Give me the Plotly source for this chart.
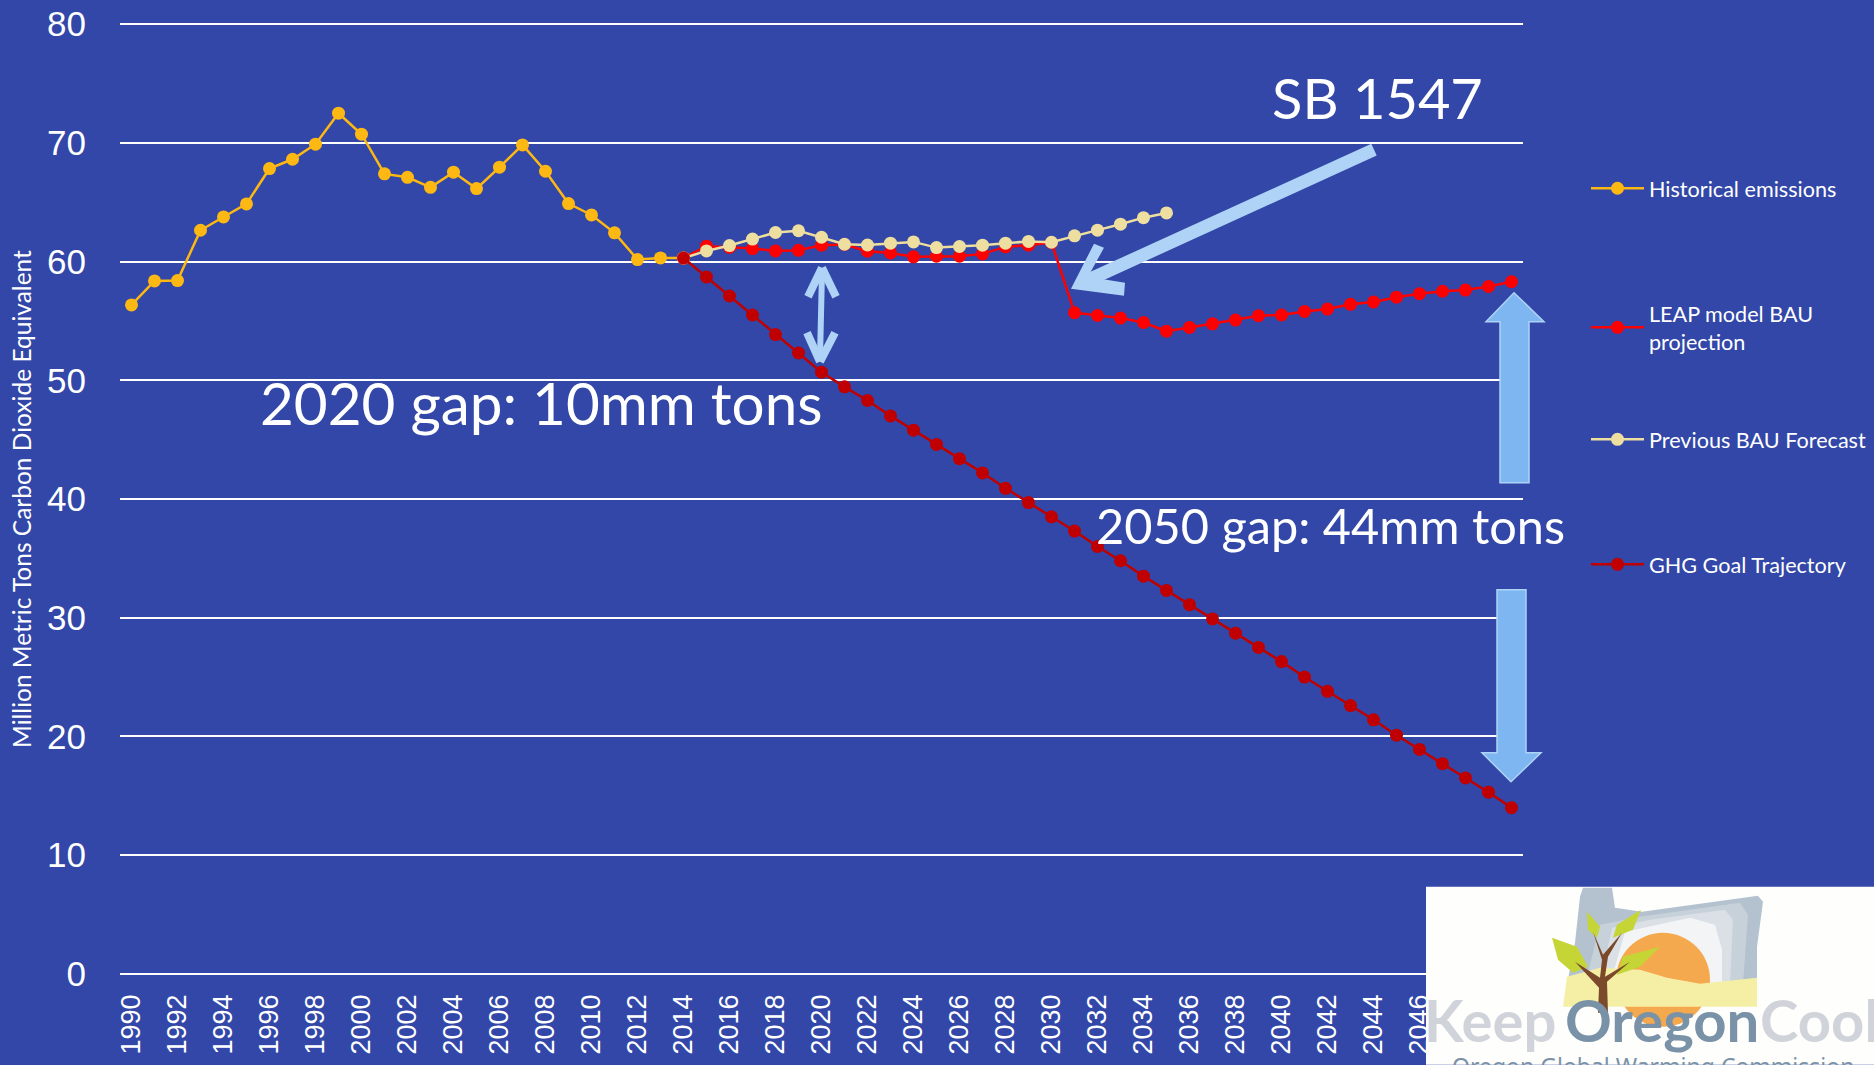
import plotly.graph_objects as go

W, H = 1874, 1065
UNIT = 11.87
L, R, T, B = 120, 1523, 24.5 - 0.1 * UNIT, 974 + 0.1 * UNIT

BG = "#3247A7"
ARROW = "#AFD3F7"
BLOCK = "#7DB6F1"
FONT = "Lato"
TICKFONT = "Liberation Sans"

hist_years = list(range(1990, 2015))
historical = [56.35, 58.37, 58.4, 62.64, 63.76, 64.86, 67.84, 68.62, 69.89, 72.5,
              70.73, 67.39, 67.1, 66.26, 67.53, 66.15, 67.95, 69.83, 67.61, 64.89,
              63.93, 62.42, 60.17, 60.31, 60.31]
leap_years = list(range(2014, 2051))
leap = [60.3, 61.3, 61.2, 61.1, 60.9, 60.95, 61.38, 61.44, 60.87, 60.73, 60.4, 60.45,
        60.45, 60.65, 61.24, 61.38, 61.6, 55.7, 55.46, 55.24, 54.87, 54.14, 54.45,
        54.76, 55.07, 55.44, 55.5, 55.8, 56.0, 56.4, 56.6, 57.0, 57.3, 57.5, 57.6,
        57.9, 58.3]
prev_years = list(range(2014, 2036))
previous = [60.3, 60.9, 61.35, 61.9, 62.45, 62.6, 62.05, 61.46, 61.4, 61.55, 61.66,
            61.18, 61.27, 61.38, 61.55, 61.7, 61.63, 62.17, 62.65, 63.15, 63.7, 64.1]
goal_years = list(range(2014, 2051))
goal = [60.3, 58.7, 57.1, 55.5, 53.85, 52.3, 50.68, 49.45, 48.3, 47.0, 45.8, 44.6,
        43.4, 42.2, 40.9, 39.7, 38.5, 37.3, 36.0, 34.8, 33.5, 32.3, 31.1, 29.9, 28.7,
        27.5, 26.3, 25.0, 23.8, 22.6, 21.4, 20.1, 18.9, 17.7, 16.5, 15.3, 14.0]

y_ticks = list(range(0, 90, 10))
x_ticks = list(range(1990, 2051, 2))

names = ["Historical emissions", "LEAP model BAU<br>projection", "Previous BAU Forecast", "GHG Goal Trajectory"]
colors = ["#FDB813", "#FF0000", "#EEDFA0", "#C00000"]
legend_px = [189, 314, 440, 565]


def px(x):
    return (x - L) / (R - L)


def py(y):
    return (B - y) / (B - T)


fig = go.Figure()
series = [(hist_years, historical), (leap_years, leap), (prev_years, previous), (goal_years, goal)]
for i, (xs, ys) in enumerate(series):
    fig.add_trace(go.Scatter(
        x=xs, y=ys, mode="lines+markers", name=names[i],
        line=dict(color=colors[i], width=2.5),
        marker=dict(color=colors[i], size=13),
        legend="legend" if i == 0 else f"legend{i + 1}",
    ))

legend_common = dict(bgcolor="rgba(0,0,0,0)", font=dict(family=FONT, size=21.6, color="white"),
                     itemwidth=53, xanchor="left", yanchor="top", x=px(1586))
layout_legends = {}
for i, yp in enumerate(legend_px):
    key = "legend" if i == 0 else f"legend{i + 1}"
    layout_legends[key] = dict(legend_common, y=py(yp - 21))


def seg(x0, y0, x1, y1, width, color=ARROW):
    return dict(type="line", xref="paper", yref="paper", x0=px(x0), y0=py(y0), x1=px(x1), y1=py(y1),
                line=dict(color=color, width=width))


def poly(points, fill, line=None, lw=0):
    d = "M " + " L ".join(f"{px(a):.5f},{py(b):.5f}" for a, b in points) + " Z"
    return dict(type="path", xref="paper", yref="paper", path=d, fillcolor=fill,
                line=dict(color=line or fill, width=lw))


def disc(cx, cy, r, fill):
    return dict(type="circle", xref="paper", yref="paper", x0=px(cx - r), x1=px(cx + r),
                y0=py(cy + r), y1=py(cy - r), fillcolor=fill, line=dict(width=0))


LEAF = "#C5D536"
shapes = [
    # SB 1547 arrow
    seg(1374, 150, 1080, 284, 13),
    poly([(1071, 289), (1094, 244), (1104, 248), (1088, 277), (1125, 283), (1124, 296)], ARROW),
    # 2020 double arrow
    seg(822, 272, 820, 358, 6),
    seg(822, 268, 808, 297, 8), seg(822, 268, 836, 297, 8),
    seg(820, 362, 807, 333, 8), seg(820, 362, 835, 333, 8),
    # block arrows
    poly([(1500, 322), (1486, 322), (1514, 293), (1544, 322), (1529, 322), (1529, 483), (1500, 483)],
         BLOCK, ARROW, 1.5),
    poly([(1497, 590), (1526, 590), (1526, 753), (1541, 753), (1511, 782), (1482, 753), (1497, 753)],
         BLOCK, ARROW, 1.5),
    # logo
    poly([(1426, 887), (1874, 887), (1874, 1065), (1426, 1065)], "#FEFEFC"),
    poly([(1583, 888), (1612, 888), (1615, 908), (1642, 912), (1758, 896), (1763, 902), (1757, 947),
          (1757, 985), (1567, 985), (1575, 943), (1580, 897)], "#B4C2CF"),
    poly([(1600, 925), (1640, 917), (1740, 903), (1748, 915), (1743, 985), (1585, 985)], "#C6D1DA"),
    poly([(1612, 928), (1650, 920), (1725, 910), (1733, 920), (1730, 985), (1600, 985)], "#DAE0E6"),
    poly([(1625, 932), (1690, 918), (1715, 925), (1722, 950), (1722, 985), (1610, 985)], "#F2F4F5"),
    disc(1663, 980, 47, "#F5A94E"),
    poly([(1567, 977), (1600, 968), (1640, 970), (1667, 978), (1700, 984), (1757, 978), (1757, 1007),
          (1563, 1007)], "#F5EFA6"),
    poly([(1552, 938), (1577, 947), (1588, 967), (1573, 973), (1558, 960)], LEAF),
    poly([(1587, 912), (1600, 927), (1597, 938), (1588, 930)], LEAF),
    poly([(1641, 910), (1633, 930), (1613, 938), (1617, 925)], LEAF),
    poly([(1660, 947), (1640, 967), (1617, 975), (1623, 957)], LEAF),
    poly([(1593, 932), (1603, 955), (1622, 933), (1608, 957), (1605, 977), (1630, 962), (1607, 982),
          (1608, 1013), (1598, 1013), (1599, 988), (1575, 962), (1600, 978), (1602, 960)], "#7A4A2A"),
]

annotations = [
    dict(text="SB 1547", x=px(1377), y=py(98), size=56),
    dict(text="2020 gap: 10mm tons", x=px(541), y=py(402), size=58.4),
    dict(text="2050 gap: 44mm tons", x=px(1330), y=py(525), size=48.7),
]
annotations = [dict(xref="paper", yref="paper", x=a["x"], y=a["y"], text=a["text"], showarrow=False,
                    xanchor="center", yanchor="middle", font=dict(family=FONT, size=a["size"], color="white"))
               for a in annotations]
annotations += [
    dict(xref="paper", yref="paper", x=px(1422), y=py(1020), text="Keep", showarrow=False, xanchor="left",
         yanchor="middle", font=dict(family=FONT, size=58, color="#D0D3D9", weight="bold")),
    dict(xref="paper", yref="paper", x=px(1563), y=py(1020), text="Oregon", showarrow=False, xanchor="left",
         yanchor="middle", font=dict(family=FONT, size=58, color="#7A92A8", weight="bold")),
    dict(xref="paper", yref="paper", x=px(1758), y=py(1020), text="Cool", showarrow=False, xanchor="left",
         yanchor="middle", font=dict(family=FONT, size=58, color="#D0D3D9", weight="bold")),
    dict(xref="paper", yref="paper", x=px(1450), y=py(1066), text="Oregon Global Warming Commission",
         showarrow=False, xanchor="left", yanchor="middle",
         font=dict(family="Noto Sans", size=23, color="#7A92A8")),
]

fig.update_layout(
    width=W, height=H, autosize=False,
    margin=dict(l=L, r=W - R, t=T, b=H - B, pad=0, autoexpand=False),
    paper_bgcolor=BG, plot_bgcolor=BG,
    showlegend=True,
    shapes=shapes, annotations=annotations,
    xaxis=dict(type="linear", range=[1989.5, 2050.5], tickmode="array", tickvals=x_ticks,
               ticktext=[str(v) for v in x_ticks], tickangle=-90, showgrid=False, zeroline=False,
               showline=False, ticks="", ticklabelstandoff=13,
               tickfont=dict(family=TICKFONT, size=27, color="white")),
    yaxis=dict(range=[-0.1, 80.1], tickmode="array", tickvals=y_ticks, showgrid=True, gridcolor="white",
               gridwidth=2, zeroline=False, showline=False, ticks="", ticklabelstandoff=33,
               tickfont=dict(family=TICKFONT, size=35, color="white"),
               title=dict(text="Million Metric Tons Carbon Dioxide Equivalent", standoff=8,
                          font=dict(family=FONT, size=24.5, color="white"))),
    **layout_legends,
)

fig.write_html("out.html", config={"displayModeBar": False},
               post_script="document.body.style.margin='0';document.body.style.overflow='hidden';")
